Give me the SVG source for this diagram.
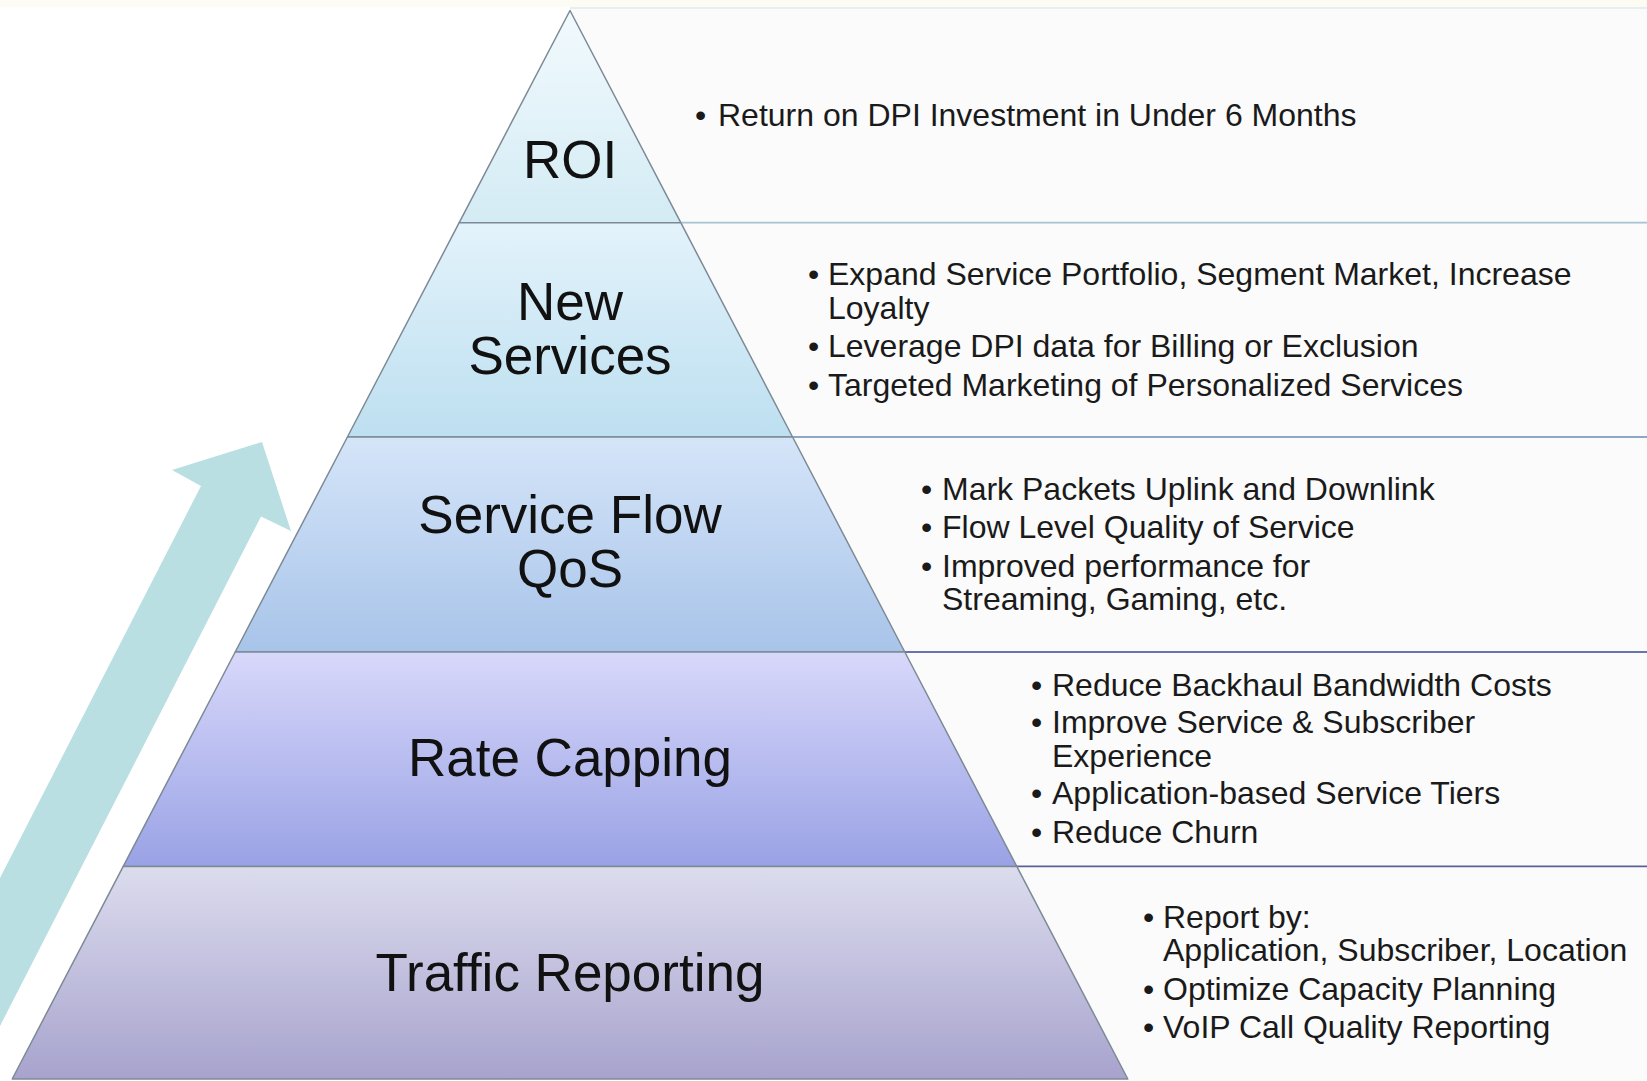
<svg xmlns="http://www.w3.org/2000/svg" width="1647" height="1081" viewBox="0 0 1647 1081">
<defs>
<linearGradient id="gRoi" x1="0" y1="0" x2="0" y2="1"><stop offset="0" stop-color="#f2fafd"/><stop offset="1" stop-color="#d3ebf4"/></linearGradient>
<linearGradient id="gNs" x1="0" y1="0" x2="0" y2="1"><stop offset="0" stop-color="#e3f3fb"/><stop offset="1" stop-color="#bddff0"/></linearGradient>
<linearGradient id="gSf" x1="0" y1="0" x2="0" y2="1"><stop offset="0" stop-color="#d5e5f9"/><stop offset="1" stop-color="#a8c4e9"/></linearGradient>
<linearGradient id="gRc" x1="0" y1="0" x2="0" y2="1"><stop offset="0" stop-color="#d8d8fa"/><stop offset="1" stop-color="#99a2e5"/></linearGradient>
<linearGradient id="gTr" x1="0" y1="0" x2="0" y2="1"><stop offset="0" stop-color="#dcdcee"/><stop offset="1" stop-color="#a7a3cd"/></linearGradient>
<style>
.tier{stroke:#7d8a96;stroke-width:1.5;stroke-linejoin:round}
.panel{fill:#fbfbfc}
.lbl{font-family:"Liberation Sans",Arial,sans-serif;font-size:53px;fill:#111;text-anchor:middle}
.txt{font-family:"Liberation Sans",Arial,sans-serif;font-size:32px;fill:#1a1a1a}
.sep{stroke-width:2;fill:none}
</style>
</defs>
<rect x="0" y="0" width="1647" height="1081" fill="#ffffff"/>
<rect x="0" y="0" width="1647" height="7" fill="#fcfbf4"/>
<line x1="570" y1="8" x2="1647" y2="8" stroke="#e0e8eb" stroke-width="1.5"/>

<g id="tier-roi">
<polygon class="panel" points="570,9 1647,9 1647,222.7 680.8,222.7"/>
<polygon class="tier" fill="url(#gRoi)" points="570,10.5 680.8,222.7 459.2,222.7"/>
<line class="sep" x1="680.8" y1="222.7" x2="1647" y2="222.7" stroke="#a9c4d3"/>
<text class="lbl" x="570" y="178">ROI</text>
<text class="txt" x="695" y="126">•</text>
<text class="txt" x="718" y="126">Return on DPI Investment in Under 6 Months</text>
</g>

<g id="tier-new-services">
<polygon class="panel" points="680.8,223.7 1647,223.7 1647,436 792.6,436"/>
<polygon class="tier" fill="url(#gNs)" points="459.2,222.7 680.8,222.7 792.6,437 347.4,437"/>
<line class="sep" x1="792.6" y1="437" x2="1647" y2="437" stroke="#8ea7c2"/>
<text class="lbl" x="570" y="320">New</text>
<text class="lbl" x="570" y="374">Services</text>
<text class="txt" x="808" y="285">•</text>
<text class="txt" x="828" y="285">Expand Service Portfolio, Segment Market, Increase<tspan x="828" y="319">Loyalty</tspan></text>
<text class="txt" x="808" y="357">•</text>
<text class="txt" x="828" y="357">Leverage DPI data for Billing or Exclusion</text>
<text class="txt" x="808" y="396">•</text>
<text class="txt" x="828" y="396">Targeted Marketing of Personalized Services</text>
</g>

<g id="tier-service-flow-qos">
<polygon class="panel" points="792.6,438 1647,438 1647,651 904.8,651"/>
<polygon class="tier" fill="url(#gSf)" points="347.4,437 792.6,437 904.8,652 235.2,652"/>
<line class="sep" x1="904.8" y1="652" x2="1647" y2="652" stroke="#6a73aa"/>
<text class="lbl" x="570" y="533">Service Flow</text>
<text class="lbl" x="570" y="587">QoS</text>
<text class="txt" x="921" y="500">•</text>
<text class="txt" x="942" y="500">Mark Packets Uplink and Downlink</text>
<text class="txt" x="921" y="538">•</text>
<text class="txt" x="942" y="538">Flow Level Quality of Service</text>
<text class="txt" x="921" y="577">•</text>
<text class="txt" x="942" y="577">Improved performance for<tspan x="942" y="610">Streaming, Gaming, etc.</tspan></text>
</g>

<g id="tier-rate-capping">
<polygon class="panel" points="904.8,653 1647,653 1647,865.6 1016.9,865.6"/>
<polygon class="tier" fill="url(#gRc)" points="235.2,652 904.8,652 1016.9,866.6 123.1,866.6"/>
<line class="sep" x1="1016.9" y1="866.6" x2="1647" y2="866.6" stroke="#5b5f95"/>
<text class="lbl" x="570" y="776">Rate Capping</text>
<text class="txt" x="1031" y="696">•</text>
<text class="txt" x="1052" y="696">Reduce Backhaul Bandwidth Costs</text>
<text class="txt" x="1031" y="733">•</text>
<text class="txt" x="1052" y="733">Improve Service &amp; Subscriber<tspan x="1052" y="767">Experience</tspan></text>
<text class="txt" x="1031" y="804">•</text>
<text class="txt" x="1052" y="804">Application-based Service Tiers</text>
<text class="txt" x="1031" y="843">•</text>
<text class="txt" x="1052" y="843">Reduce Churn</text>
</g>

<g id="tier-traffic-reporting">
<polygon class="panel" points="1016.9,867.6 1647,867.6 1647,1081 1128.8,1081"/>
<polygon class="tier" fill="url(#gTr)" points="123.1,866.6 1016.9,866.6 1127.8,1079 12.2,1079"/>
<text class="lbl" x="570" y="991">Traffic Reporting</text>
<text class="txt" x="1143" y="928">•</text>
<text class="txt" x="1163" y="928">Report by:<tspan x="1163" y="961">Application, Subscriber, Location</tspan></text>
<text class="txt" x="1143" y="1000">•</text>
<text class="txt" x="1163" y="1000">Optimize Capacity Planning</text>
<text class="txt" x="1143" y="1038">•</text>
<text class="txt" x="1163" y="1038">VoIP Call Quality Reporting</text>
</g>

<g id="connectors">
<polygon id="growth-arrow" fill="#b9dfe2" points="0,878 201,486 172,470 262,442 291,531 261,516.5 0,1026"/>
</g>
</svg>
